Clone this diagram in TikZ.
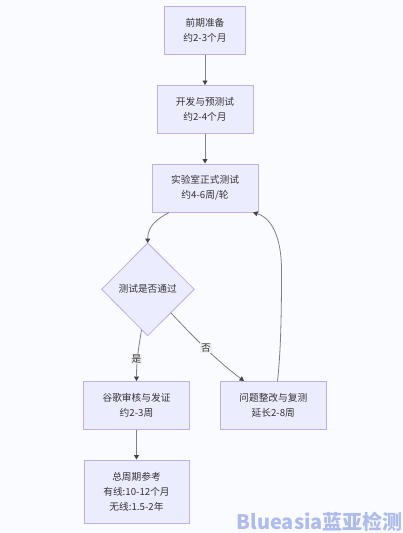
\documentclass[tikz,border=0pt]{standalone}
\usepackage{fontspec}
\setmainfont{Liberation Sans}
\newfontfamily\cjk{Noto Sans CJK SC}
\usetikzlibrary{arrows.meta,shapes.geometric}
\definecolor{bgc}{HTML}{FAFBFE}
\definecolor{fillc}{HTML}{ECECFF}
\definecolor{linec}{HTML}{BFADEC}
\definecolor{edgec}{HTML}{808080}
\definecolor{tipc}{HTML}{444444}
\definecolor{txtc}{HTML}{333333}
\definecolor{labc}{HTML}{EEEEEE}
\definecolor{wm}{HTML}{AEBBEE}
\tikzset{
  x=1pt,y=-1pt,
  flowbox/.style={draw=linec,fill=fillc,line width=1pt,text=txtc,align=center,inner sep=0pt,font=\cjk\fontsize{9.7}{14.8}\selectfont},
  flowdec/.style={draw=linec,fill=fillc,line width=.8pt},
  flowedge/.style={draw=edgec,line width=.8pt,-{Triangle[length=4.5pt,width=5pt,color=tipc]}},
  edgelab/.style={fill=labc,text=txtc,inner sep=1pt,font=\cjk\fontsize{9.7}{11}\selectfont},
}
\begin{document}
\begin{tikzpicture}
\useasboundingbox (0,0) rectangle (403,533);
\fill[bgc] (0,0) rectangle (403,533);
\node[flowbox,minimum width=81pt,minimum height=48pt] (a) at (205,30.5) {前期准备\\约2-3个月};
\node[flowbox,minimum width=96pt,minimum height=48pt] (b) at (205,109.5) {开发与预测试\\约2-4个月};
\node[flowbox,minimum width=106pt,minimum height=48pt] (c) at (205,188) {实验室正式测试\\约4-6周/轮};
\coordinate (dc) at (147.7,289.3);
\draw[flowdec] (147.7,243) -- (194.2,289.3) -- (147.7,335.7) -- (101.7,289.3) -- cycle;
\node[text=txtc,font=\cjk\fontsize{9.7}{11}\selectfont,inner sep=0pt] (d) at (dc) {测试是否通过};
\coordinate (dtop) at (147.7,243);
\node[flowbox,minimum width=106pt,minimum height=48pt] (e) at (136.5,405) {谷歌审核与发证\\约2-3周};
\node[flowbox,minimum width=106pt,minimum height=48pt] (f) at (273.3,405) {问题整改与复测\\延长2-8周};
\node[flowbox,minimum width=105pt,minimum height=63pt] (g) at (136.5,491.5) {总周期参考\\有线:10-12个月\\无线:1.5-2年};
\draw[flowedge] (a) -- (b);
\draw[flowedge] (b) -- (c);
\draw[flowedge] (e) -- (g);
\coordinate (cs) at (169,212.5);
\coordinate (ds) at (141.5,330);
\coordinate (dr) at (171,313);
\coordinate (fs) at (277.5,381);
\coordinate (ce) at (253,212.5);
\coordinate (ee) at (136.5,381);
\coordinate (fe) at (244,381);
\draw[flowedge] (cs) .. controls (157,219) and (147.7,226) .. (dtop);
\draw[flowedge] (ds) .. controls (138,351) and (136.5,362) .. (ee);
\draw[flowedge] (dr) .. controls (187,330) and (212,357) .. (fe);
\draw[flowedge] (fs) .. controls (281,350) and (281.5,310) .. (281.5,270) .. controls (281.5,238) and (272,218) .. (ce);
\node[edgelab] (l1) at (136.5,359) {是};
\node[edgelab] (l2) at (206,348) {否};
\node[text=wm,anchor=east,inner sep=0pt,font=\cjk\bfseries\fontsize{20}{22}\selectfont] (w) at (403,522) {Blueasia蓝亚检测};
\end{tikzpicture}
\end{document}
